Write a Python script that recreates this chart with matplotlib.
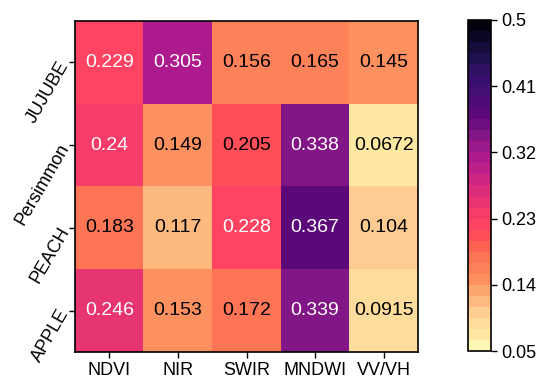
import numpy as np
import matplotlib
matplotlib.use("Agg")
import matplotlib.pyplot as plt
from matplotlib.colors import BoundaryNorm, ListedColormap, LinearSegmentedColormap

plt.rcParams['font.family'] = ['Liberation Sans', 'DejaVu Sans']

features = ["NDVI", "NIR", "SWIR", "MNDWI", "VV/VH"]
crops = ["JUJUBE", "Persimmon", "PEACH", "APPLE"]
jujube = [0.229, 0.305, 0.156, 0.165, 0.145]
persimmon = [0.24, 0.149, 0.205, 0.338, 0.0672]
peach = [0.183, 0.117, 0.228, 0.367, 0.104]
apple = [0.246, 0.153, 0.172, 0.339, 0.0915]
cbar_ticks = [0.05, 0.14, 0.23, 0.32, 0.41, 0.5]

vals = np.array([jujube, persimmon, peach, apple])

vmin, vmax = 0.05, 0.5
# magma-like palette, sampled by eye from the original
anchors = [
    (0.05, "#fdfdc0"), (0.0672, "#feeba4"), (0.0915, "#fed99a"),
    (0.104, "#fec990"), (0.117, "#feba80"), (0.145, "#fe9260"),
    (0.172, "#fd7a58"), (0.183, "#fe7050"), (0.205, "#fe5057"),
    (0.229, "#fe4066"), (0.305, "#b81b8e"), (0.338, "#8a1a8a"),
    (0.367, "#60087a"), (0.41, "#400f72"), (0.45, "#1e1050"),
    (0.5, "#000004"),
]
smooth = LinearSegmentedColormap.from_list(
    "ref", [((v - vmin) / (vmax - vmin), c) for v, c in anchors])

# 30 discrete steps like the original colour key
n_levels = 30
bounds = np.linspace(vmin, vmax, n_levels + 1)
centers = (bounds[:-1] + bounds[1:]) / 2
cmap = ListedColormap(smooth((centers - vmin) / (vmax - vmin)))
norm = BoundaryNorm(bounds, cmap.N)

fig = plt.figure(figsize=(5.5, 3.87), dpi=100)
ax = fig.add_axes([75 / 550, 1 - 352 / 387, 343 / 550, 331 / 387])
cax = fig.add_axes([468 / 550, 1 - 351 / 387, 23 / 550, 331 / 387])

im = ax.imshow(vals, cmap=cmap, norm=norm, aspect="auto")

for i in range(vals.shape[0]):
    for j in range(vals.shape[1]):
        v = vals[i, j]
        col = "white" if v > 0.22 else "black"
        ax.text(j, i, "%g" % v, ha="center", va="center", color=col, fontsize=14)

ax.set_xticks(range(len(features)))
ax.set_xticklabels(features, fontsize=13)
ax.set_yticks(range(len(crops)))
ax.set_yticklabels(crops, fontsize=13, rotation=60, ha="right", va="center",
                   rotation_mode="anchor")
ax.tick_params(length=4, width=1, pad=3)
for s in ax.spines.values():
    s.set_linewidth(1.2)

cb = fig.colorbar(im, cax=cax, ticks=cbar_ticks)
cb.minorticks_off()
cb.ax.set_yticklabels(["%g" % t for t in cbar_ticks], fontsize=13)
cb.ax.tick_params(length=4, width=1)
cb.outline.set_linewidth(1.2)

fig.savefig("out.png", dpi=100)
